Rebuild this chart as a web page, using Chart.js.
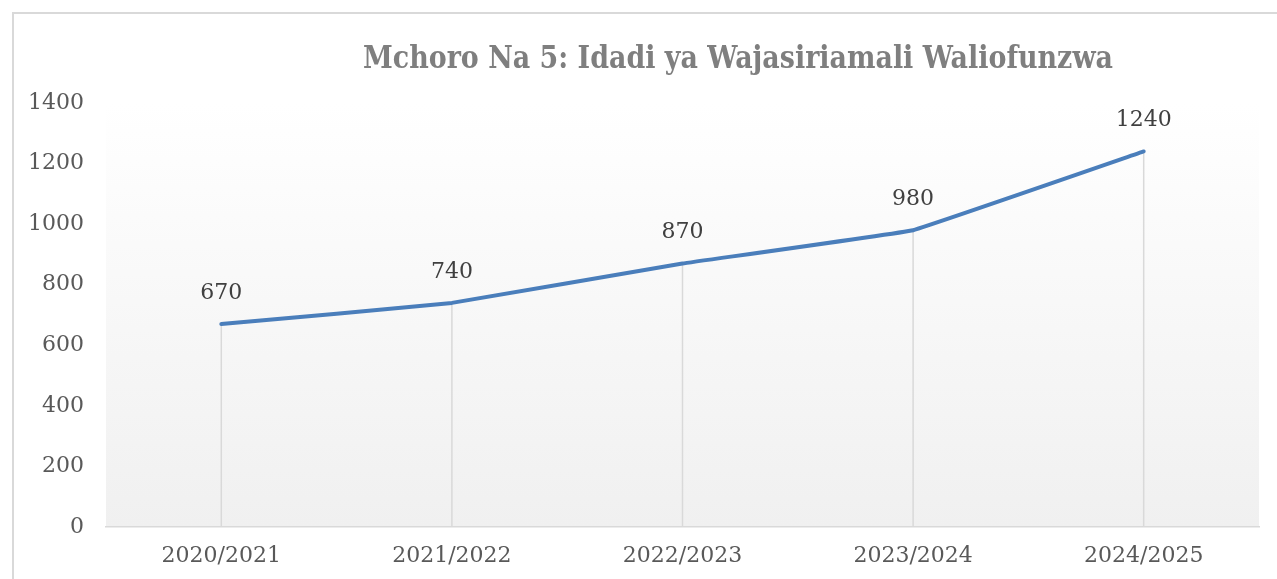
<!DOCTYPE html>
<html>
<head>
<meta charset="utf-8">
<script src="https://cdn.jsdelivr.net/npm/chart.js@4/dist/chart.umd.min.js"></script>
<style>
    html, body { margin: 0; padding: 0; background: #fff; overflow: hidden; }
    #wrap { position: relative; width: 1277px; height: 579px; }
    #frame { position: absolute; left: 12px; top: 12px; width: 1300px; height: 620px;
             border: 2px solid #d9d9d9; box-sizing: border-box; }
    canvas { position: absolute; left: 0; top: 0; }
</style>
</head>
<body>
<div id="wrap">
    <div id="frame"></div>
    <canvas id="chart" width="1277" height="579"></canvas>
</div>
<script>
// Data
const chartTitle = 'Mchoro Na 5: Idadi ya Wajasiriamali Waliofunzwa';
const years = ['2020/2021', '2021/2022', '2022/2023', '2023/2024', '2024/2025'];
const trained = [670, 740, 870, 980, 1240];
const yTicks = [0, 200, 400, 600, 800, 1000, 1200, 1400];

const labelFont = { family: 'DejaVu Serif', size: 22 };
const labelColor = '#595959';

// Gradient background of the plot area
const plotBackground = {
    id: 'plotBackground',
    beforeDraw(chart) {
        const { ctx, chartArea: a } = chart;
        const g = ctx.createLinearGradient(0, a.top, 0, a.bottom);
        g.addColorStop(0, '#ffffff');
        g.addColorStop(1, '#f0f0f0');
        ctx.save();
        ctx.fillStyle = g;
        ctx.fillRect(a.left, a.top, a.right - a.left, a.bottom - a.top);
        ctx.restore();
    }
};

// Vertical drop lines from each point down to the axis
const dropLines = {
    id: 'dropLines',
    beforeDatasetsDraw(chart) {
        const { ctx, chartArea: a } = chart;
        const meta = chart.getDatasetMeta(0);
        ctx.save();
        ctx.strokeStyle = '#d9d9d9';
        ctx.lineWidth = 1.5;
        meta.data.forEach(p => {
            ctx.beginPath();
            ctx.moveTo(p.x, p.y);
            ctx.lineTo(p.x, a.bottom);
            ctx.stroke();
        });
        ctx.restore();
    }
};

// Value labels above the points
const valueLabels = {
    id: 'valueLabels',
    afterDatasetsDraw(chart) {
        const { ctx } = chart;
        const meta = chart.getDatasetMeta(0);
        ctx.save();
        ctx.font = labelFont.size + 'px "' + labelFont.family + '"';
        ctx.fillStyle = '#404040';
        ctx.textAlign = 'center';
        ctx.textBaseline = 'middle';
        meta.data.forEach((p, i) => {
            ctx.fillText(String(trained[i]), p.x, p.y - 31);
        });
        ctx.restore();
    }
};

// Title, condensed to the width it has in the original
const titlePlugin = {
    id: 'titlePlugin',
    afterDraw(chart) {
        const { ctx } = chart;
        ctx.save();
        ctx.font = 'bold 32px "DejaVu Serif"';
        ctx.fillStyle = '#7f7f7f';
        ctx.textBaseline = 'alphabetic';
        const w = ctx.measureText(chartTitle).width;
        const target = 750;
        ctx.translate(738 - target / 2, 68);
        ctx.scale(target / w, 1);
        ctx.fillText(chartTitle, 0, 0);
        ctx.restore();
    }
};

new Chart(document.getElementById('chart'), {
    type: 'line',
    data: {
        labels: years,
        datasets: [{
            data: trained,
            borderColor: '#4a7ebb',
            borderWidth: 4,
            borderCapStyle: 'round',
            borderJoinStyle: 'round',
            pointRadius: 0,
            tension: 0.05,
            fill: false
        }]
    },
    options: {
        responsive: false,
        animation: false,
        layout: { padding: { top: 103, right: 18, left: 0, bottom: 0 } },
        plugins: {
            legend: { display: false },
            tooltip: { enabled: false },
            title: { display: false }
        },
        scales: {
            x: {
                offset: true,
                grid: { display: false, drawTicks: false },
                border: { display: true, color: '#d9d9d9', width: 1.5 },
                ticks: { font: labelFont, color: labelColor, padding: 16 },
                afterFit: s => { s.height = 52; }
            },
            y: {
                min: 0,
                max: 1400,
                grid: { display: false, drawTicks: false },
                border: { display: false },
                afterBuildTicks: s => { s.ticks = yTicks.map(v => ({ value: v })); },
                ticks: {
                    font: labelFont,
                    color: labelColor,
                    padding: 22,
                    callback: v => String(v)
                },
                afterFit: s => { s.width = 106; }
            }
        }
    },
    plugins: [plotBackground, dropLines, valueLabels, titlePlugin]
});
</script>
</body>
</html>
